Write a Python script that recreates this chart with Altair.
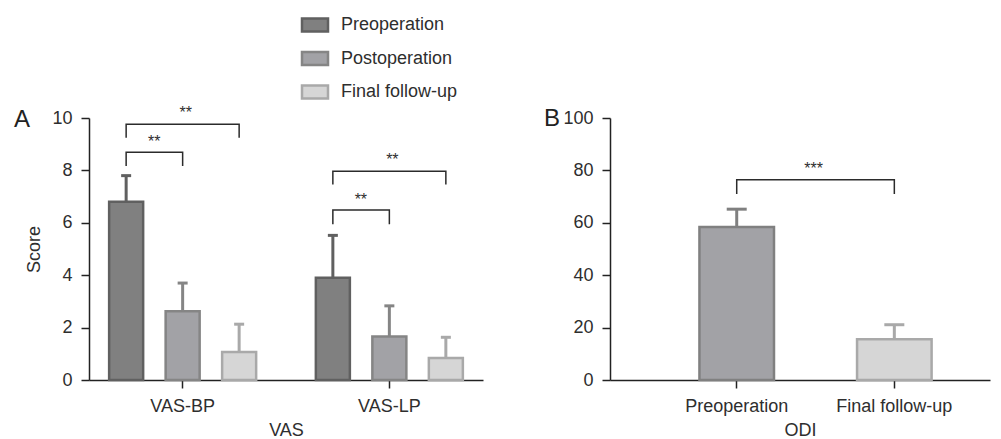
import altair as alt
import pandas as pd

# ---------------- data ----------------
groups = ["VAS-BP", "VAS-LP"]
phases = ["Preoperation", "Postoperation", "Final follow-up"]
vas_bp_mean = [6.8, 2.62, 1.07]
vas_bp_sd = [1.0, 1.08, 1.06]
vas_lp_mean = [3.9, 1.66, 0.84]
vas_lp_sd = [1.62, 1.17, 0.79]

odi_phases = ["Preoperation", "Final follow-up"]
odi_mean = [58.4, 15.6]
odi_sd = [6.8, 5.5]

# significance brackets (panel A)
br_group = ["VAS-BP", "VAS-BP", "VAS-LP", "VAS-LP"]
br_from = ["Preoperation", "Preoperation", "Preoperation", "Preoperation"]
br_to = ["Postoperation", "Final follow-up", "Postoperation", "Final follow-up"]
br_low = [8.17, 9.25, 5.94, 7.46]
br_high = [8.69, 9.76, 6.49, 7.97]
br_text_y = [9.1, 10.2, 6.88, 8.38]
br_text = ["**", "**", "**", "**"]

# significance bracket (panel B)
odi_br_from = "Preoperation"
odi_br_to = "Final follow-up"
odi_br_low = 71.0
odi_br_high = 76.4
odi_br_text_y = 80.6
odi_br_text = "***"

fill_colors = ["#808080", "#a2a2a6", "#d6d6d6"]
stroke_colors = ["#606060", "#858585", "#a9a9a9"]
odi_fill = ["#a2a2a6", "#d6d6d6"]
odi_stroke = ["#808080", "#a9a9a9"]

FONT = "Liberation Sans"
TXT = "#2e2e2e"

# ---------------- tables ----------------
rows = []
for g, means, sds in zip(groups, [vas_bp_mean, vas_lp_mean], [vas_bp_sd, vas_lp_sd]):
    for p, m, s in zip(phases, means, sds):
        rows.append({"group": g, "phase": p, "mean": m, "upper": m + s})
vas = pd.DataFrame(rows)

lrows = []
trows = []
for i, (g, a, b, lo, hi, ty, t) in enumerate(zip(br_group, br_from, br_to, br_low, br_high, br_text_y, br_text)):
    lrows += [
        {"id": i, "group": g, "phase": a, "y": lo, "o": 0},
        {"id": i, "group": g, "phase": a, "y": hi, "o": 1},
        {"id": i, "group": g, "phase": b, "y": hi, "o": 2},
        {"id": i, "group": g, "phase": b, "y": lo, "o": 3},
    ]
    ia, ib = phases.index(a), phases.index(b)
    mid = (ia + ib) / 2
    trows.append({"group": g, "phase": phases[int(mid)], "y": ty, "t": t, "half": mid != int(mid)})
brl = pd.DataFrame(lrows)
brt = pd.DataFrame(trows)

odi = pd.DataFrame({"phase": odi_phases, "mean": odi_mean,
                    "upper": [m + s for m, s in zip(odi_mean, odi_sd)]})
odi_l = pd.DataFrame({
    "id": [0, 0, 0, 0],
    "phase": [odi_br_from, odi_br_from, odi_br_to, odi_br_to],
    "y": [odi_br_low, odi_br_high, odi_br_high, odi_br_low],
    "o": [0, 1, 2, 3],
})
odi_t = pd.DataFrame({"phase": [odi_phases[0]], "y": [odi_br_text_y], "t": [odi_br_text]})

# ---------------- panel A ----------------
xA = alt.X("group:N", sort=groups,
           scale=alt.Scale(domain=groups, paddingInner=0.2, paddingOuter=0.053),
           axis=alt.Axis(title="VAS", labelAngle=0, labelPadding=9, titlePadding=6))
xoA = alt.XOffset("phase:N", sort=phases,
                  scale=alt.Scale(domain=phases, paddingInner=0.398, paddingOuter=0.1625))
ysA = alt.Scale(domain=[0, 10], nice=False)
yaxA = alt.Axis(title="Score", values=[0, 2, 4, 6, 8, 10], labelPadding=9, titlePadding=8)

legA = alt.Legend(title=None, orient="none", legendX=217, legendY=-102,
                  symbolType="M-2,-1L2,-1L2,1L-2,1Z", symbolSize=169,
                  symbolStrokeWidth=2.5, labelFont=FONT, labelFontSize=18, labelColor=TXT,
                  labelOffset=17, rowPadding=9.5, padding=0)
fillA = alt.Fill("phase:N", sort=phases, scale=alt.Scale(domain=phases, range=fill_colors), legend=legA)
strokeA = alt.Stroke("phase:N", sort=phases, scale=alt.Scale(domain=phases, range=stroke_colors), legend=legA)
strokeA_nl = alt.Stroke("phase:N", sort=phases, scale=alt.Scale(domain=phases, range=stroke_colors), legend=None)

barsA = alt.Chart(vas).mark_bar(strokeWidth=2.5).encode(
    x=xA, xOffset=xoA, y=alt.Y("mean:Q", scale=ysA, axis=yaxA), fill=fillA, stroke=strokeA)
errA = alt.Chart(vas).mark_rule(strokeWidth=3).encode(
    x=xA, xOffset=xoA, y=alt.Y("mean:Q", scale=ysA, axis=yaxA), y2="upper:Q", stroke=strokeA_nl)
capA = alt.Chart(vas).mark_point(shape="M-1,0L1,0", size=100, strokeWidth=3, filled=False, opacity=1).encode(
    x=xA, xOffset=xoA, y=alt.Y("upper:Q", scale=ysA, axis=yaxA), stroke=strokeA_nl)
brA = alt.Chart(brl).mark_line(color="#2b2b2b", strokeWidth=1.5).encode(
    x=xA, xOffset=xoA, y=alt.Y("y:Q", scale=ysA, axis=yaxA), detail="id:N", order="o:Q")
txtA1 = alt.Chart(brt[~brt["half"]]).mark_text(fontSize=16, font=FONT, color=TXT, baseline="middle", dx=3).encode(
    x=xA, xOffset=xoA, y=alt.Y("y:Q", scale=ysA, axis=yaxA), text="t:N")
txtA2 = alt.Chart(brt[brt["half"]]).mark_text(fontSize=16, font=FONT, color=TXT, baseline="middle", dx=28).encode(
    x=xA, xOffset=xoA, y=alt.Y("y:Q", scale=ysA, axis=yaxA), text="t:N")
labA = alt.Chart(pd.DataFrame({"t": ["A"]})).mark_text(
    fontSize=24, font=FONT, color="#222222", align="center", baseline="middle").encode(
    text="t:N", x=alt.value(-67), y=alt.value(2))

panelA = alt.layer(barsA, errA, capA, brA, txtA1, txtA2, labA).properties(width=394, height=262)

# ---------------- panel B ----------------
xB = alt.X("phase:N", sort=odi_phases,
           scale=alt.Scale(domain=odi_phases, paddingInner=0.527, paddingOuter=0.469, align=0.605),
           axis=alt.Axis(title="ODI", labelAngle=0, labelPadding=9, titlePadding=6))
ysB = alt.Scale(domain=[0, 100], nice=False)
yaxB = alt.Axis(title=None, values=[0, 20, 40, 60, 80, 100], labelPadding=9)
fillB = alt.Fill("phase:N", sort=odi_phases, scale=alt.Scale(domain=odi_phases, range=odi_fill), legend=None)
strokeB = alt.Stroke("phase:N", sort=odi_phases, scale=alt.Scale(domain=odi_phases, range=odi_stroke), legend=None)

barsB = alt.Chart(odi).mark_bar(strokeWidth=2.5).encode(
    x=xB, y=alt.Y("mean:Q", scale=ysB, axis=yaxB), fill=fillB, stroke=strokeB)
errB = alt.Chart(odi).mark_rule(strokeWidth=3).encode(
    x=xB, y=alt.Y("mean:Q", scale=ysB, axis=yaxB), y2="upper:Q", stroke=strokeB)
capB = alt.Chart(odi).mark_point(shape="M-1,0L1,0", size=400, strokeWidth=3, filled=False, opacity=1).encode(
    x=xB, y=alt.Y("upper:Q", scale=ysB, axis=yaxB), stroke=strokeB)
brB = alt.Chart(odi_l).mark_line(color="#2b2b2b", strokeWidth=1.5).encode(
    x=xB, y=alt.Y("y:Q", scale=ysB, axis=yaxB), detail="id:N", order="o:Q")
txtB = alt.Chart(odi_t).mark_text(fontSize=16, font=FONT, color=TXT, baseline="middle", dx=77).encode(
    x=xB, y=alt.Y("y:Q", scale=ysB, axis=yaxB), text="t:N")
labB = alt.Chart(pd.DataFrame({"t": ["B"]})).mark_text(
    fontSize=24, font=FONT, color="#222222", align="center", baseline="middle").encode(
    text="t:N", x=alt.value(-58), y=alt.value(1))

panelB = alt.layer(barsB, errB, capB, brB, txtB, labB).properties(width=380, height=262)

chart = alt.hconcat(panelA, panelB, spacing=60).resolve_scale(
    fill="independent", stroke="independent"
).properties(
    padding={"left": 5, "top": 8, "right": 3, "bottom": 2}
).configure_axis(
    domainColor="#222222", domainWidth=1.5, tickColor="#222222", tickWidth=1.5, tickSize=8,
    labelFont=FONT, labelFontSize=18, labelColor=TXT,
    titleFont=FONT, titleFontSize=18, titleFontWeight="normal", titleColor=TXT, grid=False
).configure_view(strokeWidth=0)

chart.save("out.html", embed_options={"renderer": "svg", "actions": False})
